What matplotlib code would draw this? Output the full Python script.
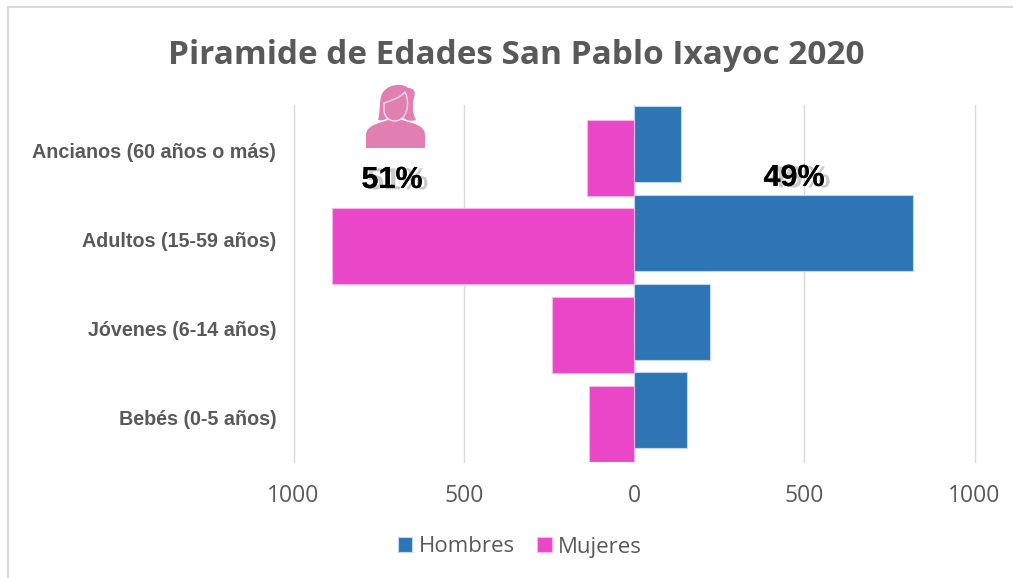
import matplotlib.pyplot as plt
import matplotlib.patheffects as pe
from matplotlib.patches import PathPatch
from matplotlib.path import Path

categorias = ["Bebés (0-5 años)", "Jóvenes (6-14 años)", "Adultos (15-59 años)", "Ancianos (60 años o más)"]
hombres = [155, 223, 820, 138]
mujeres = [132, 240, 887, 138]
ticks = [-1000, -500, 0, 500, 1000]
tick_labels = ["1000", "500", "0", "500", "1000"]

azul = "#2e75b6"
rosa = "#ea46c8"
gris = "#595959"

W, H = 1013, 578
fig = plt.figure(figsize=(W / 100, H / 100), dpi=100)
ax = fig.add_axes([293.5 / W, 1 - 462 / H, (974.5 - 293.5) / W, (462 - 105) / H])

y = list(range(len(categorias)))
alto = 0.856
offset = 0.077
ax.barh([i + offset for i in y], hombres, height=alto, color=azul, edgecolor="#bdd7ee", linewidth=0.8, label="Hombres", zorder=3)
ax.barh([i - offset for i in y], [-m for m in mujeres], height=alto, color=rosa, edgecolor="#f6b6e8", linewidth=0.8, label="Mujeres", zorder=3)

ax.set_xlim(-1000, 1000)
ax.set_ylim(-0.504, 3.516)
ax.set_xticks(ticks)
ax.set_xticklabels(tick_labels, fontsize=16.5, color=gris, family="Open Sans")
ax.set_yticks(y)
ax.set_yticklabels(categorias, fontsize=14.2, fontweight="bold", color=gris, family="Liberation Sans")
ax.tick_params(axis="x", length=0, pad=15.5)
ax.tick_params(axis="y", length=0, pad=12.5)
ax.grid(axis="x", color="#d9d9d9", linewidth=1, zorder=0)
for l in ax.get_xgridlines():
    l.set_clip_on(False)
for s in ax.spines.values():
    s.set_visible(False)

leg = fig.legend(loc="center", bbox_to_anchor=(520 / W, 1 - 547 / H), ncol=2, frameon=False,
                 prop={"family": "Open Sans", "size": 16}, labelcolor=gris,
                 handlelength=0.65, handleheight=0.65, handletextpad=0.3, columnspacing=1.0)

fig.text(516 / W, 1 - 55 / H, "Piramide de Edades San Pablo Ixayoc 2020", ha="center", va="center",
         fontsize=24, fontweight="bold", color=gris, family="Open Sans")

# capa en pixeles para el marco, el icono y los porcentajes
over = fig.add_axes([0, 0, 1, 1], zorder=5)
over.set_xlim(0, W)
over.set_ylim(H, 0)
over.axis("off")
over.plot([8, 8, W], [H, 7, 7], color="#d9d9d9", linewidth=1.5)

icono = "#e17fb3"
M, L, C, Z = Path.MOVETO, Path.LINETO, Path.CURVE4, Path.CLOSEPOLY


def forma(trazos, **kw):
    verts, codes = [], []
    for codigo, pts in trazos:
        verts += pts
        codes += [codigo] * len(pts)
    over.add_patch(PathPatch(Path(verts, codes), **kw))


forma([(M, [(366, 148)]), (L, [(366, 135)]),
       (C, [(366, 125), (380, 123), (388, 120)]), (L, [(402, 120)]),
       (C, [(412, 123), (425, 125), (425, 135)]), (L, [(425, 148), (366, 148)]), (Z, [(366, 148)])],
      fc=icono, ec="none")
forma([(M, [(378, 120)]),
       (C, [(381, 110), (378, 95), (385, 90)]),
       (C, [(392, 83), (405, 84), (408, 88)]),
       (C, [(414, 88), (416, 92), (414, 98)]),
       (C, [(412, 105), (413, 115), (416, 120)]),
       (C, [(410, 122), (405, 120), (403, 117)]), (L, [(388, 117)]),
       (C, [(385, 120), (382, 121), (378, 120)]), (Z, [(378, 120)])],
      fc=icono, ec="none")
forma([(M, [(384, 103)]),
       (C, [(390, 101), (400, 98), (405, 92)]),
       (C, [(408, 98), (408, 105), (407, 109)]),
       (C, [(405, 118), (399, 121), (395, 121)]),
       (C, [(390, 121), (385, 118), (384, 111)]), (Z, [(384, 103)])],
      fc=icono, ec="#f4dbe8", lw=1)

sombra = [pe.withSimplePatchShadow(offset=(4, -1), shadow_rgbFace="#bdbdbd", alpha=0.8), pe.Normal()]
for txt, px, py in [("51%", 392, 180), ("49%", 794, 178)]:
    over.text(px, py, txt, ha="center", va="center", fontsize=22, fontweight="bold", color="black",
              family="Liberation Sans", path_effects=sombra)

fig.savefig("out.png", dpi=100)
